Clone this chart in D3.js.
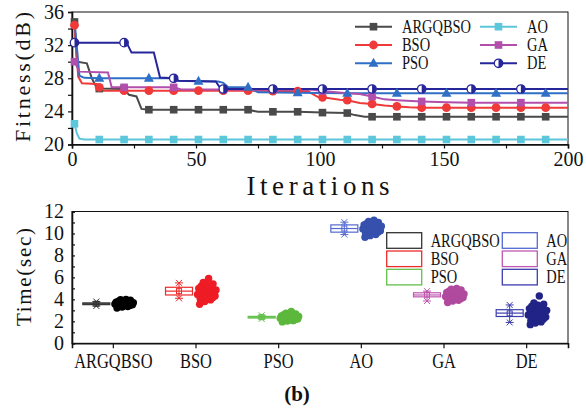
<!DOCTYPE html>
<html>
<head>
<meta charset="utf-8">
<script src="https://cdn.jsdelivr.net/npm/d3@7"></script>
<style>
  body { margin: 0; background: #fff; }
  text { font-family: "Liberation Serif", "Times New Roman", serif; fill: #111; }
</style>
</head>
<body>
<div id="chart"></div>
<script>
// ---------- data ----------
const names = ["ARGQBSO", "BSO", "PSO", "AO", "GA", "DE"];

// fitness curves: [iteration, fitness dB]
const fitArgqbso = [[1,34.8],[2,30.0],[6,29.8],[8,28.0],[10,26.8],[11,26.75],[21,26.7],[23,26.0],[26,25.8],[28,24.3],[31,24.2],[41,24.2],[51,24.2],[61,24.2],[71,24.2],[75,23.95],[81,23.95],[91,23.95],[101,23.85],[111,23.8],[114,23.55],[118,23.35],[121,23.35],[131,23.35],[141,23.35],[151,23.35],[161,23.35],[171,23.35],[181,23.35],[191,23.35],[200,23.35]];
const fitBso = [[1,34.4],[2.5,28.2],[4,27.4],[10,27.3],[11,26.9],[12,26.5],[21,26.5],[31,26.5],[41,26.5],[51,26.5],[61,26.5],[71,26.5],[81,26.45],[91,26.45],[95,26.45],[99,25.75],[101,25.7],[108,25.4],[111,25.35],[116,25.0],[121,24.9],[126,24.7],[131,24.6],[136,24.5],[141,24.45],[151,24.45],[161,24.45],[171,24.45],[181,24.45],[191,24.45],[200,24.45]];
const fitPso = [[1,35.0],[3,28.3],[5,28.05],[11,28.0],[31,28.0],[40,28.0],[41,27.7],[51,27.65],[59,27.6],[61,27.45],[63,26.9],[71,26.9],[75,26.3],[91,26.25],[111,26.2],[131,26.2],[151,26.2],[171,26.2],[191,26.2],[200,26.2]];
const fitAo = [[1,22.5],[2,21.3],[3,20.7],[5,20.6],[11,20.6],[21,20.6],[31,20.6],[41,20.6],[51,20.6],[61,20.6],[71,20.6],[81,20.6],[91,20.6],[101,20.6],[111,20.6],[121,20.6],[131,20.6],[141,20.6],[151,20.6],[161,20.6],[171,20.6],[181,20.6],[191,20.6],[200,20.6]];
const fitGa = [[1,30.0],[3,28.8],[14.5,28.7],[16,26.9],[21,26.9],[41,26.9],[44,26.65],[61,26.65],[81,26.6],[97,26.6],[101,26.45],[111,26.2],[116,26.1],[121,25.8],[126,25.45],[131,25.35],[141,25.2],[151,25.1],[161,25.05],[181,25.05],[200,25.05]];
const fitDe = [[1,32.3],[21,32.3],[22,32.3],[24,31.1],[33,31.1],[35.5,28.1],[41,28.0],[43,27.7],[58,27.6],[60,26.7],[61,26.7],[81,26.7],[101,26.7],[121,26.7],[141,26.7],[161,26.7],[181,26.7],[200,26.7]];

// run times (sec) of each algorithm
const timeArgqbso = [3.22,3.3,3.35,3.38,3.42,3.45,3.47,3.5,3.52,3.54,3.55,3.57,3.58,3.6,3.61,3.62,3.64,3.65,3.67,3.69,3.7,3.72,3.75,3.78,3.8,3.84,3.88,3.92,3.96,4.0];
const timeBso = [3.55,3.8,3.95,4.05,4.1,4.15,4.2,4.25,4.3,4.35,4.4,4.45,4.5,4.55,4.6,4.65,4.7,4.75,4.8,4.85,4.9,4.95,5.0,5.05,5.1,5.2,5.3,5.4,5.55,5.9];
const timePso = [1.95,2.02,2.06,2.1,2.13,2.16,2.18,2.2,2.22,2.24,2.26,2.28,2.3,2.32,2.34,2.36,2.38,2.4,2.42,2.44,2.46,2.48,2.5,2.53,2.56,2.6,2.64,2.68,2.75,2.9];
const timeAo = [9.65,9.8,9.9,9.98,10.05,10.1,10.15,10.2,10.25,10.3,10.35,10.4,10.43,10.46,10.5,10.53,10.56,10.6,10.63,10.66,10.7,10.74,10.78,10.82,10.86,10.9,10.95,11.0,11.1,11.2];
const timeGa = [3.72,3.85,3.92,3.98,4.02,4.06,4.1,4.13,4.16,4.19,4.22,4.25,4.28,4.31,4.34,4.37,4.4,4.43,4.46,4.5,4.54,4.58,4.62,4.66,4.7,4.75,4.8,4.86,4.92,5.0];
const timeDe = [1.7,1.85,1.95,2.05,2.12,2.2,2.27,2.34,2.4,2.46,2.52,2.58,2.63,2.68,2.73,2.78,2.83,2.88,2.93,2.98,3.04,3.1,3.16,3.22,3.3,3.38,3.46,3.56,3.68,4.3];

// box statistics per algorithm
const boxQ1     = [3.52, 4.40, 2.30, 10.12, 4.23, 2.44];
const boxMedian = [3.60, 4.75, 2.38, 10.45, 4.40, 2.75];
const boxQ3     = [3.68, 5.10, 2.45, 10.78, 4.60, 3.06];
const boxMean   = [3.60, 4.75, 2.38, 10.45, 4.42, 2.72];
const boxLow    = [3.40, 4.10, 2.22, 9.90, 3.85, 1.90];
const boxHigh   = [3.80, 5.50, 2.55, 11.03, 4.75, 3.49];

const fitTicks = [20, 24, 28, 32, 36];
const iterTicks = [0, 50, 100, 150, 200];
const timeTicks = [0, 2, 4, 6, 8, 10, 12];

// ---------- styles ----------
const fitSeries = [
  {name: "ARGQBSO", data: fitArgqbso, color: "#4a4a4a", shape: "square", start: 1, every: 10},
  {name: "BSO", data: fitBso, color: "#f03a3a", shape: "circle", start: 1, every: 10},
  {name: "PSO", data: fitPso, color: "#2f6fc6", shape: "triangle", start: 11, every: 20},
  {name: "AO", data: fitAo, color: "#5cc6da", shape: "square", start: 1, every: 10},
  {name: "GA", data: fitGa, color: "#b24eac", shape: "square", start: 1, every: 20},
  {name: "DE", data: fitDe, color: "#26269a", shape: "half", start: 1, every: 20}
];
const times = [timeArgqbso, timeBso, timePso, timeAo, timeGa, timeDe];
const cloudColors = ["#000000", "#ee1c24", "#5cb83c", "#3651ad", "#b04a9e", "#212486"];
const boxColors = ["#333333", "#ee2b2b", "#62c04a", "#5468d0", "#c058b0", "#3d3db0"];

const svg = d3.select("#chart").append("svg")
  .attr("width", 586).attr("height", 413);

// squeeze letters a bit (figure uses a narrow font)
function squeeze(sel, k) {
  sel.each(function() {
    const w = this.getComputedTextLength();
    d3.select(this).attr("textLength", w * k).attr("lengthAdjust", "spacingAndGlyphs");
  });
}

function marker(g, shape, x, y, color) {
  if (shape === "square") {
    g.append("rect").attr("x", x - 3.8).attr("y", y - 3.8).attr("width", 7.6).attr("height", 7.6).attr("fill", color);
  } else if (shape === "circle") {
    g.append("circle").attr("cx", x).attr("cy", y).attr("r", 4.4).attr("fill", color);
  } else if (shape === "triangle") {
    g.append("path").attr("d", `M${x},${y - 5.5}L${x + 5},${y + 3.5}L${x - 5},${y + 3.5}Z`).attr("fill", color);
  } else {
    g.append("circle").attr("cx", x).attr("cy", y).attr("r", 4.2).attr("fill", "#fff").attr("stroke", color).attr("stroke-width", 1.3);
    g.append("path").attr("d", `M${x},${y - 4.2}A4.2,4.2 0 0 1 ${x},${y + 4.2}Z`).attr("fill", color);
  }
}

// =============== top chart: fitness ===============
const xIter = d3.scaleLinear().domain([0, 200]).range([72, 568]);
const yFit = d3.scaleLinear().domain([20, 36]).range([144.5, 12]);

const topG = svg.append("g");

// frame
topG.append("rect").attr("x", 72).attr("y", 12).attr("width", 496).attr("height", 132.5)
  .attr("fill", "none").attr("stroke", "#111").attr("stroke-width", 1);

const xAxTop = topG.append("g").attr("transform", "translate(0,144.5)")
  .call(d3.axisBottom(xIter).tickValues(d3.range(0, 201, 25)).tickSize(4).tickPadding(3)
    .tickFormat(d => iterTicks.includes(d) ? d : ""));
const yAxTop = topG.append("g").attr("transform", "translate(72,0)")
  .call(d3.axisLeft(yFit).tickValues(d3.range(20, 37, 2)).tickSize(4).tickPadding(4)
    .tickFormat(d => fitTicks.includes(d) ? d : ""));
[xAxTop, yAxTop].forEach(a => {
  a.select(".domain").attr("stroke", "#111").attr("stroke-width", 1.6);
  a.selectAll(".tick line").attr("stroke", "#111").attr("stroke-width", 1.2);
  a.selectAll("text").attr("font-size", 20).attr("fill", "#111")
    .style("font-family", "Liberation Serif");
});

const line = d3.line().x(d => xIter(d[0])).y(d => yFit(d[1]));
fitSeries.forEach(s => {
  topG.append("path").datum(s.data).attr("d", line)
    .attr("fill", "none").attr("stroke", s.color).attr("stroke-width", 2);
});
fitSeries.forEach(s => {
  const g = topG.append("g");
  s.data.filter(d => d[0] >= s.start && (d[0] - s.start) % s.every === 0 && d[0] < 200)
    .forEach(d => marker(g, s.shape, xIter(d[0]), yFit(d[1]), s.color));
});

// legend (two columns)
fitSeries.forEach((s, i) => {
  const col = Math.floor(i / 3), row = i % 3;
  const x0 = col === 0 ? 355 : 480, y0 = 26.7 + row * 18.3;
  const g = topG.append("g");
  g.append("line").attr("x1", x0).attr("x2", x0 + 37).attr("y1", y0).attr("y2", y0)
    .attr("stroke", s.color).attr("stroke-width", 2);
  marker(g, s.shape, x0 + 18.5, y0, s.color);
  g.append("text").attr("x", x0 + 47).attr("y", y0 + 6).attr("font-size", 18.5).text(s.name)
    .call(squeeze, 0.78);
});

topG.append("text").attr("x", 318).attr("y", 195).attr("text-anchor", "middle")
  .attr("font-size", 27).attr("textLength", 143).attr("lengthAdjust", "spacing").text("Iterations");
topG.append("text").attr("transform", "translate(30,77) rotate(-90)").attr("text-anchor", "middle")
  .attr("font-size", 22).attr("textLength", 130).attr("lengthAdjust", "spacing").text("Fitness(dB)");

// =============== bottom chart: run time ===============
const xCat = d3.scaleBand().domain(names).range([72, 568]);
const yTime = d3.scaleLinear().domain([0, 12]).range([343.3, 211.5]);

const bot = svg.append("g");
bot.append("rect").attr("x", 72).attr("y", 211.5).attr("width", 496).attr("height", 131.8)
  .attr("fill", "none").attr("stroke", "#111").attr("stroke-width", 1);

const xAxBot = bot.append("g").attr("transform", "translate(0,343.3)")
  .call(d3.axisBottom(xCat).tickSize(5).tickPadding(6));
const yAxBot = bot.append("g").attr("transform", "translate(72,0)")
  .call(d3.axisLeft(yTime).tickValues(d3.range(0, 13, 1)).tickSize(-3).tickPadding(8)
    .tickFormat(d => timeTicks.includes(d) ? d : ""));
[xAxBot, yAxBot].forEach(a => {
  a.select(".domain").attr("stroke", "#111").attr("stroke-width", 1.6);
  a.selectAll(".tick line").attr("stroke", "#111").attr("stroke-width", 1.2);
  a.selectAll("text").attr("font-size", 20).attr("fill", "#111")
    .style("font-family", "Liberation Serif");
});
xAxBot.selectAll("text").call(squeeze, 0.82);

names.forEach((n, i) => {
  const c = xCat(n) + xCat.bandwidth() / 2;
  const bx = c - 17, bw = 27;
  const g = bot.append("g");
  const col = boxColors[i];

  // data cloud to the right of the box
  const vals = times[i], cnt = vals.length, r = 3.7;
  const left = c - 3 + r, right = c + 24 - r, mid = (left + right) / 2;
  vals.forEach((v, j) => {
    const rank = Math.abs(j - (cnt - 1) / 2) / ((cnt - 1) / 2);
    const spread = ((j * 11) % cnt) / (cnt - 1) - 0.5;
    const half = (right - left) / 2 * (1 - 0.3 * rank * rank);
    g.append("circle").attr("cx", mid + spread * 2 * half).attr("cy", yTime(v))
      .attr("r", r).attr("fill", cloudColors[i]);
  });

  // box
  g.append("rect").attr("x", bx - bw / 2).attr("y", yTime(boxQ3[i]))
    .attr("width", bw).attr("height", yTime(boxQ1[i]) - yTime(boxQ3[i]))
    .attr("fill", "none").attr("stroke", col).attr("stroke-width", 1.2);
  g.append("line").attr("x1", bx - bw / 2).attr("x2", bx + bw / 2)
    .attr("y1", yTime(boxMedian[i])).attr("y2", yTime(boxMedian[i]))
    .attr("stroke", col).attr("stroke-width", 1.2);
  // whiskers
  g.append("line").attr("x1", bx).attr("x2", bx)
    .attr("y1", yTime(boxLow[i])).attr("y2", yTime(boxHigh[i]))
    .attr("stroke", col).attr("stroke-width", 1);
  [boxLow[i], boxHigh[i]].forEach(v => {
    const y = yTime(v);
    g.append("line").attr("x1", bx - 4).attr("x2", bx + 4).attr("y1", y).attr("y2", y)
      .attr("stroke", col).attr("stroke-width", 1);
    g.append("path").attr("d", `M${bx - 3},${y - 3}L${bx + 3},${y + 3}M${bx - 3},${y + 3}L${bx + 3},${y - 3}`)
      .attr("stroke", col).attr("stroke-width", 1);
  });
  const my = yTime(boxMean[i]);
  g.append("rect").attr("x", bx - 2.5).attr("y", my - 2.5).attr("width", 5).attr("height", 5)
    .attr("fill", "none").attr("stroke", col).attr("stroke-width", 1);
});

// legend boxes
names.forEach((n, i) => {
  const col = Math.floor(i / 3), row = i % 3;
  const x0 = col === 0 ? 386.7 : 502.3, y0 = 232.7 + row * 18.3;
  bot.append("rect").attr("x", x0).attr("y", y0).attr("width", 35).attr("height", 15.6)
    .attr("fill", "none").attr("stroke", boxColors[i]).attr("stroke-width", 1.3);
  bot.append("text").attr("x", x0 + 44).attr("y", y0 + 14).attr("font-size", 18.5).text(n)
    .call(squeeze, 0.78);
});

bot.append("text").attr("transform", "translate(31,277) rotate(-90)").attr("text-anchor", "middle")
  .attr("font-size", 21).attr("textLength", 98).attr("lengthAdjust", "spacing").text("Time(sec)");

svg.append("text").attr("x", 297).attr("y", 401).attr("text-anchor", "middle")
  .attr("font-size", 21).attr("font-weight", "bold").text("(b)");
</script>
</body>
</html>
